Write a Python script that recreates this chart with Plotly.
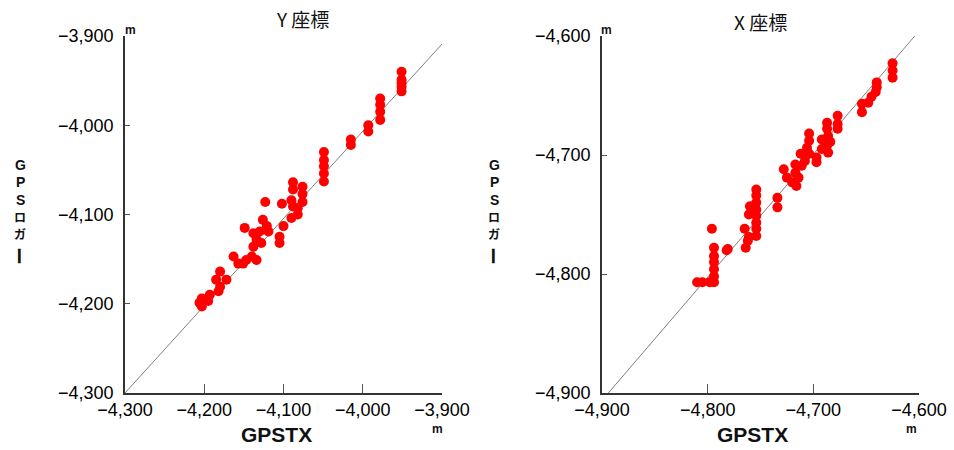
import plotly.graph_objects as go

W, H = 954, 450

# ---- data: Y 座標 ----
y_gpstx = [-3951, -3951, -3951, -3951, -3951,
           -3978, -3978, -3978, -3978,
           -3993, -3993,
           -4015, -4015,
           -4049, -4049, -4049, -4049, -4049,
           -4088, -4088, -4076, -4076, -4076, -4090, -4088, -4082, -4082, -4090,
           -4102, -4100, -4105, -4105,
           -4123,
           -4126, -4121, -4119, -4130, -4138, -4134, -4128, -4138, -4149, -4140, -4147, -4134, -4151, -4157, -4163,
           -4180, -4185, -4172, -4180, -4182, -4193, -4195, -4203, -4206, -4203]
y_logger = [-3940, -3949, -3953, -3957, -3962,
            -3970, -3977, -3985, -3994,
            -4000, -4007,
            -4016, -4022,
            -4030, -4039, -4046, -4054, -4063,
            -4064, -4072, -4069, -4077, -4086, -4084, -4091, -4093, -4100, -4104,
            -4088, -4113, -4125, -4132,
            -4086,
            -4106, -4113, -4119, -4119, -4121, -4128, -4132, -4136, -4115, -4147, -4151, -4151, -4155, -4155, -4147,
            -4164, -4173, -4173, -4181, -4186, -4190, -4197, -4194, -4199, -4203]

# ---- data: X 座標 ----
x_gpstx = [-4625, -4625, -4625,
           -4640, -4640, -4641, -4645, -4648, -4654, -4654,
           -4677, -4677, -4677, -4687, -4687, -4686, -4692, -4684, -4687, -4686, -4692, -4697, -4697,
           -4704, -4704, -4706, -4704, -4712, -4708, -4711, -4717, -4717, -4728, -4725, -4720, -4716, -4714,
           -4734, -4734,
           -4754, -4754, -4754, -4754, -4754, -4754, -4754, -4754, -4760, -4761, -4765, -4761, -4762, -4764,
           -4781, -4782,
           -4796,
           -4794, -4794, -4794, -4794, -4794, -4794, -4798,
           -4810, -4805]
x_logger = [-4623, -4629, -4635,
            -4639, -4643, -4647, -4651, -4656, -4657, -4664,
            -4667, -4674, -4678, -4673, -4678, -4684, -4687, -4689, -4692, -4698, -4695, -4702, -4706,
            -4682, -4688, -4694, -4699, -4699, -4705, -4709, -4708, -4715, -4712, -4719, -4723, -4726, -4719,
            -4736, -4744,
            -4729, -4734, -4740, -4746, -4751, -4757, -4762, -4768, -4743, -4750, -4762, -4769, -4772, -4778,
            -4779, -4780,
            -4762,
            -4778, -4785, -4790, -4796, -4802, -4807, -4807,
            -4807, -4807]

y_ticks = [-4300, -4200, -4100, -4000, -3900]
y_ticktext = ["−4,300", "−4,200", "−4,100", "−4,000", "−3,900"]
x_ticks = [-4900, -4800, -4700, -4600]
x_ticktext = ["−4,900", "−4,800", "−4,700", "−4,600"]

# reference diagonal lines (start / end)
y_ref_x = [-4300, -3900]
y_ref_y = [-4300, -3909]
x_ref_x = [-4894, -4604]
x_ref_y = [-4900, -4600]

ylabel_chars = ["G", "P", "S", "ロ", "ガ", "ー"]

RED = "#ff0000"
fig = go.Figure()


def px(x):
    return x / W


def py(y):
    return 1 - y / H


fig.add_trace(go.Scatter(x=y_ref_x, y=y_ref_y, mode="lines",
                         line=dict(color="#808080", width=1), xaxis="x", yaxis="y",
                         showlegend=False, hoverinfo="skip"))
fig.add_trace(go.Scatter(x=y_gpstx, y=y_logger, mode="markers",
                         marker=dict(color=RED, size=10, line=dict(width=0)),
                         xaxis="x", yaxis="y", showlegend=False))
fig.add_trace(go.Scatter(x=x_ref_x, y=x_ref_y, mode="lines",
                         line=dict(color="#808080", width=1), xaxis="x2", yaxis="y2",
                         showlegend=False, hoverinfo="skip"))
fig.add_trace(go.Scatter(x=x_gpstx, y=x_logger, mode="markers",
                         marker=dict(color=RED, size=10, line=dict(width=0)),
                         xaxis="x2", yaxis="y2", showlegend=False))

tickfont = dict(family="Liberation Sans, Arial", size=18, color="#000000")
axis_common = dict(showgrid=False, zeroline=False, showline=True, linecolor="#333333",
                   linewidth=1.5, ticks="inside", tickcolor="#555555", tickwidth=1,
                   tickfont=tickfont, mirror=False, automargin=False, fixedrange=True)

ydom = [py(393), py(36)]
fig.update_layout(
    width=W, height=H, margin=dict(l=0, r=0, t=0, b=0, autoexpand=False),
    paper_bgcolor="white", plot_bgcolor="white",
    xaxis=dict(domain=[px(125), px(442)], range=[-4300, -3900], tickvals=y_ticks,
               ticktext=y_ticktext, ticklen=9, anchor="y", **axis_common),
    yaxis=dict(domain=ydom, range=[-4300, -3900], tickvals=y_ticks,
               ticktext=y_ticktext, ticklen=5, anchor="x", ticklabelstandoff=6, **axis_common),
    xaxis2=dict(domain=[px(602), px(919)], range=[-4900, -4600], tickvals=x_ticks,
                ticktext=x_ticktext, ticklen=9, anchor="y2", **axis_common),
    yaxis2=dict(domain=ydom, range=[-4900, -4600], tickvals=x_ticks,
                ticktext=x_ticktext, ticklen=5, anchor="x2", ticklabelstandoff=6, **axis_common),
)

cjk = "Noto Sans CJK JP"
lat = "Liberation Sans, Arial"
ann = []


def add(text, x, y, size, bold=False, family=cjk, angle=0):
    t = f"<b>{text}</b>" if bold else text
    ann.append(dict(text=t, x=px(x), y=py(y), xref="paper", yref="paper", showarrow=False,
                    xanchor="center", yanchor="middle", textangle=angle,
                    font=dict(family=family, size=size, color="#111111")))


add("Y 座標", 302, 18, 19)
add("X 座標", 760, 22, 19)
add("GPSTX", 276, 434, 21, bold=True, family=lat)
add("GPSTX", 752, 434, 21, bold=True, family=lat)
add("m", 130, 30, 12, bold=True, family=lat)
add("m", 606, 30, 12, bold=True, family=lat)
add("m", 437, 429, 12, bold=True, family=lat)
add("m", 911, 429, 12, bold=True, family=lat)

char_y = [165, 182, 200, 216, 233, 256]
for cx in (20, 494):
    for ch, cy in zip(ylabel_chars, char_y):
        if ch == "ー":
            add(ch, cx, cy, 18, bold=True, family=cjk, angle=90)
        elif ch in ("ロ", "ガ"):
            add(ch, cx, cy, 12, bold=True, family=cjk)
        else:
            add(ch, cx, cy, 14, bold=True, family=lat)

fig.update_layout(annotations=ann)

fig.write_html("out.html")
